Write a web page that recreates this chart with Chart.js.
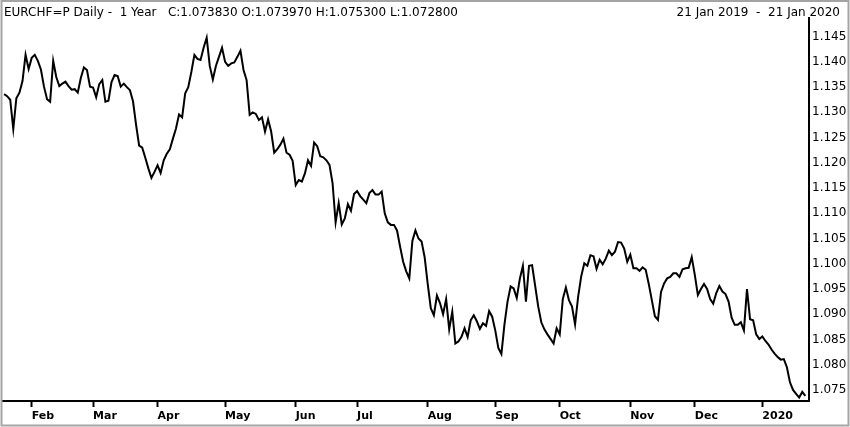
<!DOCTYPE html>
<html>
<head>
<meta charset="utf-8">
<script src="https://cdn.jsdelivr.net/npm/chart.js@4.4.1/dist/chart.umd.min.js"></script>
<style>
  html, body { margin: 0; padding: 0; background: #fff; }
  canvas { display: block; }
</style>
</head>
<body>
<canvas id="chart" width="850" height="427"></canvas>
<script>
// header texts
const headerLeft = 'EURCHF=P Daily -  1 Year   C:1.073830 O:1.073970 H:1.075300 L:1.072800';
const headerRight = '21 Jan 2019  -  21 Jan 2020';

// daily closes, one per weekday from 21 Jan 2019 to 21 Jan 2020
const closes = [
  1.1336, 1.1332, 1.1325, 1.1267, 1.1328, 1.1339, 1.1362, 1.1414, 1.1386, 1.1408,
  1.1414, 1.1402, 1.1385, 1.1351, 1.1326, 1.1321, 1.1402, 1.1370, 1.1352, 1.1357,
  1.1361, 1.1352, 1.1345, 1.1346, 1.1339, 1.1368, 1.1389, 1.1384, 1.1351, 1.1349,
  1.1330, 1.1356, 1.1364, 1.1321, 1.1323, 1.1360, 1.1374, 1.1372, 1.1351, 1.1357,
  1.1350, 1.1344, 1.1322, 1.1275, 1.1234, 1.1230, 1.1210, 1.1189, 1.1170, 1.1182,
  1.1195, 1.1180, 1.1205, 1.1218, 1.1227, 1.1248, 1.1268, 1.1296, 1.1290, 1.1338,
  1.1350, 1.1380, 1.1414, 1.1406, 1.1404, 1.1428, 1.1448, 1.1392, 1.1365, 1.1392,
  1.1410, 1.1428, 1.1400, 1.1392, 1.1397, 1.1399, 1.1410, 1.1422, 1.1384, 1.1364,
  1.1295, 1.1300, 1.1297, 1.1285, 1.1290, 1.1262, 1.1286, 1.1262, 1.1220, 1.1227,
  1.1236, 1.1248, 1.1220, 1.1216, 1.1204, 1.1156, 1.1166, 1.1163, 1.1179, 1.1205,
  1.1194, 1.1240, 1.1233, 1.1213, 1.1211, 1.1205, 1.1196, 1.1160, 1.1082, 1.1120,
  1.1078, 1.1090, 1.1118, 1.1105, 1.1138, 1.1144, 1.1134, 1.1127, 1.1120, 1.1140,
  1.1146, 1.1137, 1.1137, 1.1143, 1.1100, 1.1082, 1.1077, 1.1077, 1.1066, 1.1034,
  1.1004, 1.0985, 1.0971, 1.1045, 1.1066, 1.1050, 1.1044, 1.1013, 1.0960, 1.0912,
  1.0898, 1.0937, 1.0922, 1.0900, 1.0930, 1.0870, 1.0905, 1.0842, 1.0846, 1.0855,
  1.0872, 1.0855, 1.0888, 1.0898, 1.0886, 1.0871, 1.0882, 1.0877, 1.0906, 1.0895,
  1.0868, 1.0833, 1.0821, 1.0880, 1.0925, 1.0955, 1.0951, 1.0932, 1.0970, 1.0996,
  1.0925, 1.0996, 1.0997, 1.0956, 1.0915, 1.0884, 1.0870, 1.0860, 1.0851, 1.0842,
  1.0872, 1.0860, 1.0930, 1.0953, 1.0928, 1.0915, 1.0880, 1.0935, 1.0975, 1.1001,
  1.0996, 1.1017, 1.1015, 1.0990, 1.1008, 1.0999, 1.1010, 1.1026, 1.1017, 1.1024,
  1.1043, 1.1042, 1.1030, 1.1004, 1.1018, 1.0991, 1.0991, 1.0986, 1.0993, 1.0988,
  1.0960, 1.0928, 1.0896, 1.0889, 1.0944, 1.0961, 1.0971, 1.0974, 1.0981, 1.0981,
  1.0974, 1.0989, 1.0991, 1.0992, 1.1013, 1.0978, 1.0938, 1.0950, 1.0960, 1.0950,
  1.0930, 1.0921, 1.0942, 1.0956, 1.0945, 1.0940, 1.0925, 1.0893, 1.0879, 1.0879,
  1.0884, 1.0868, 1.0950, 1.0890, 1.0888, 1.0860, 1.0851, 1.0856, 1.0847, 1.0840,
  1.0830, 1.0822, 1.0815, 1.0810, 1.0811, 1.0795, 1.0765, 1.0750, 1.0742, 1.0735,
  1.0746, 1.0738
];

const monthLabels = ['Feb', 'Mar', 'Apr', 'May', 'Jun', 'Jul', 'Aug', 'Sep', 'Oct', 'Nov', 'Dec', '2020'];
const yTicks = [1.075, 1.080, 1.085, 1.090, 1.095, 1.100, 1.105, 1.110, 1.115, 1.120, 1.125, 1.130, 1.135, 1.140, 1.145];

// weekday calendar for the category positions
const dates = [];
for (let d = new Date(2019, 0, 21); d <= new Date(2020, 0, 21); d.setDate(d.getDate() + 1)) {
  if (d.getDay() !== 0 && d.getDay() !== 6) dates.push(new Date(d));
}
const monthStarts = [];
for (let i = 1; i < dates.length; i++) {
  if (dates[i].getMonth() !== dates[i - 1].getMonth()) monthStarts.push(i);
}

const FONT = '"DejaVu Sans", sans-serif';

const frame = {
  id: 'frame',
  afterDraw(chart) {
    const ctx = chart.ctx;
    ctx.save();
    ctx.font = '12px ' + FONT;
    ctx.fillStyle = '#000';
    ctx.textBaseline = 'alphabetic';
    ctx.textAlign = 'left';
    ctx.fillText(headerLeft, 4, 16);
    ctx.textAlign = 'right';
    ctx.fillText(headerRight, 840, 16);
    ctx.strokeStyle = '#a4a4a4';
    ctx.lineWidth = 2;
    ctx.strokeRect(1.5, 1, 847, 424.5);
    ctx.restore();
  }
};

new Chart(document.getElementById('chart'), {
  type: 'line',
  data: {
    datasets: [{
      data: closes.map((v, i) => ({ x: i, y: v })),
      borderColor: '#000',
      borderWidth: 2,
      pointRadius: 0,
      tension: 0,
      fill: false
    }]
  },
  options: {
    responsive: false,
    animation: false,
    devicePixelRatio: 1,
    layout: { padding: { top: 18, left: 3, right: 0, bottom: 0 } },
    plugins: { legend: { display: false }, tooltip: { enabled: false } },
    scales: {
      x: {
        type: 'linear',
        min: -0.35,
        max: 262.2,
        afterBuildTicks: s => { s.ticks = monthStarts.map(v => ({ value: v })); },
        afterFit: s => { s.height = 26; },
        grid: { drawOnChartArea: false, drawTicks: true, tickLength: 6, tickColor: '#000', tickWidth: 2 },
        border: { display: true, color: '#000', width: 2 },
        ticks: {
          autoSkip: false,
          maxRotation: 0,
          align: 'start',
          padding: 3,
          color: '#000',
          font: { family: FONT, size: 11, weight: 'bold' },
          callback: (v, i) => monthLabels[i]
        }
      },
      y: {
        position: 'right',
        min: 1.0728,
        max: 1.1487,
        afterBuildTicks: s => { s.ticks = yTicks.map(v => ({ value: v })); },
        afterFit: s => { s.width = 41; },
        grid: { display: false, drawTicks: false },
        border: { display: true, color: '#000', width: 2 },
        ticks: {
          padding: 3,
          color: '#000',
          font: { family: FONT, size: 12 },
          callback: v => v.toFixed(3)
        }
      }
    }
  },
  plugins: [frame]
});
</script>
</body>
</html>
